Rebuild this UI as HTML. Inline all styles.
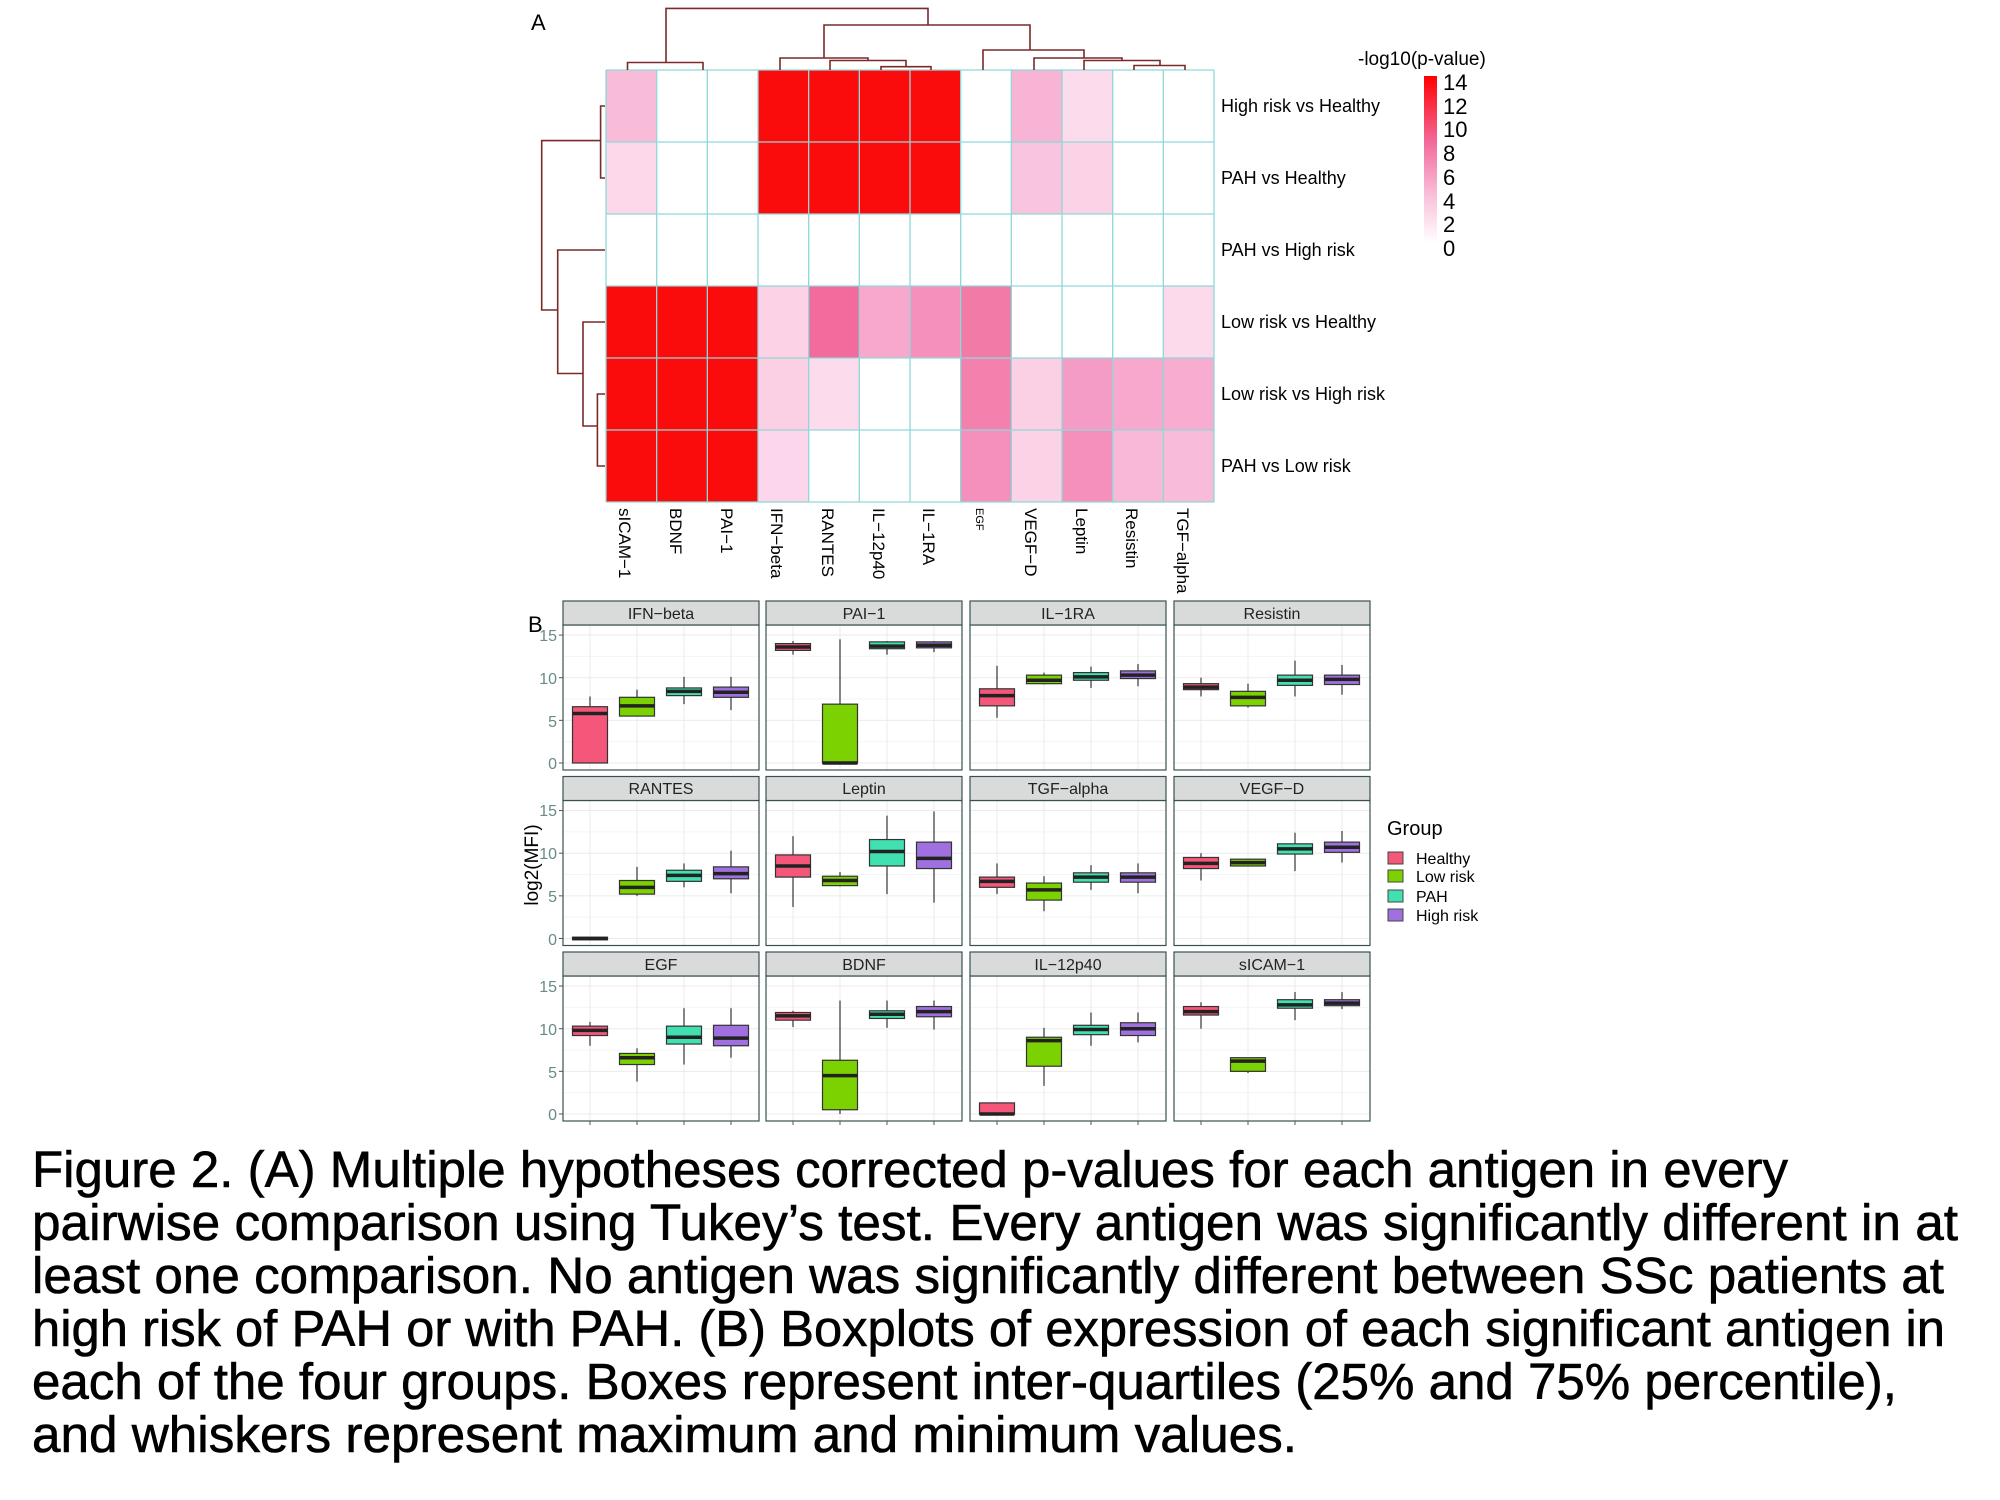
<!DOCTYPE html>
<html><head><meta charset="utf-8"><style>
html,body{margin:0;padding:0;background:#fff;}
svg{display:block;}
text{font-family:"Liberation Sans",sans-serif;}
</style></head><body>
<svg id="s" width="2000" height="1500" viewBox="0 0 2000 1500" xmlns="http://www.w3.org/2000/svg">
<rect width="2000" height="1500" fill="#fff"/>
<g id="hm"></g>
<g id="bx"></g>
<g fill="none" stroke="#7a2a2a" stroke-width="1.6">
<path d="M666,62.5 V8.4 H928 V25"/>
<path d="M627.5,70 V62.5 H703 V70"/>
<path d="M824,58 V25 H1030 V50"/>
<path d="M780,70 V58 H868 V60.5"/>
<path d="M830,70 V60.5 H906 V66.7"/>
<path d="M881,70 V66.7 H931 V70"/>
<path d="M983,70 V50 H1084 V58"/>
<path d="M1034,70 V58 H1122 V60.5"/>
<path d="M1084,70 V60.5 H1160 V65.5"/>
<path d="M1134,70 V65.5 H1185 V70"/>
<path d="M605,106 H600.6 V178 H605"/>
<path d="M600.6,140.6 H541.7 V310 H557.7"/>
<path d="M605,250 H557.7 V373.5 H583"/>
<path d="M605,322 H583 V426 H597.4"/>
<path d="M605,394 H597.4 V466 H605"/>
</g>
<text x="531" y="30" font-size="22">A</text>
<g font-size="18" fill="#000">
<text x="1221" y="112">High risk vs Healthy</text>
<text x="1221" y="184">PAH vs Healthy</text>
<text x="1221" y="256">PAH vs High risk</text>
<text x="1221" y="328">Low risk vs Healthy</text>
<text x="1221" y="400">Low risk vs High risk</text>
<text x="1221" y="472">PAH vs Low risk</text>
</g>
<g font-size="17" fill="#000">
<text transform="translate(625,508) rotate(90)" dy="6">sICAM−1</text>
<text transform="translate(676,508) rotate(90)" dy="6">BDNF</text>
<text transform="translate(727,508) rotate(90)" dy="6">PAI−1</text>
<text transform="translate(777,508) rotate(90)" dy="6">IFN−beta</text>
<text transform="translate(828,508) rotate(90)" dy="6">RANTES</text>
<text transform="translate(879,508) rotate(90)" dy="6">IL−12p40</text>
<text transform="translate(929,508) rotate(90)" dy="6">IL−1RA</text>
<text transform="translate(980,508) rotate(90)" dy="4" font-size="11">EGF</text>
<text transform="translate(1031,508) rotate(90)" dy="6">VEGF−D</text>
<text transform="translate(1082,508) rotate(90)" dy="6">Leptin</text>
<text transform="translate(1132,508) rotate(90)" dy="6">Resistin</text>
<text transform="translate(1183,508) rotate(90)" dy="6">TGF−alpha</text>
</g>
<defs><linearGradient id="cb" x1="0" y1="1" x2="0" y2="0">
<stop offset="0" stop-color="#fff"/><stop offset="0.3" stop-color="#f9bcd8"/><stop offset="0.6" stop-color="#f26b9c"/><stop offset="1" stop-color="#ff0000"/></linearGradient></defs>
<text x="1358" y="65" font-size="19">-log10(p-value)</text>
<rect x="1424" y="76" width="13" height="167" fill="url(#cb)"/>
<g font-size="22">
<text x="1443" y="90">14</text><text x="1443" y="114">12</text><text x="1443" y="137">10</text>
<text x="1443" y="161">8</text><text x="1443" y="185">6</text><text x="1443" y="209">4</text>
<text x="1443" y="232">2</text><text x="1443" y="256">0</text>
</g>
<text x="528" y="632" font-size="22">B</text>
<text transform="translate(538,865) rotate(-90)" font-size="19" text-anchor="middle">log2(MFI)</text>
<g font-size="16" fill="#222" text-anchor="middle">
<text x="661" y="619">IFN−beta</text><text x="864" y="619">PAI−1</text><text x="1068" y="619">IL−1RA</text><text x="1272" y="619">Resistin</text>
<text x="661" y="794">RANTES</text><text x="864" y="794">Leptin</text><text x="1068" y="794">TGF−alpha</text><text x="1272" y="794">VEGF−D</text>
<text x="661" y="970">EGF</text><text x="864" y="970">BDNF</text><text x="1068" y="970">IL−12p40</text><text x="1272" y="970">sICAM−1</text>
</g>
<g font-size="16" fill="#6a8a8a" text-anchor="end">
<text x="557" y="641">15</text><text x="557" y="684">10</text><text x="557" y="727">5</text><text x="557" y="769">0</text>
<text x="557" y="816">15</text><text x="557" y="859">10</text><text x="557" y="902">5</text><text x="557" y="945">0</text>
<text x="557" y="992">15</text><text x="557" y="1035">10</text><text x="557" y="1078">5</text><text x="557" y="1120">0</text>
</g>
<text x="1387" y="835" font-size="20">Group</text>
<g stroke="#444" stroke-width="1">
<rect x="1388" y="852" width="15" height="12" fill="#f5577a"/>
<rect x="1388" y="870" width="15" height="12" fill="#7cd100"/>
<rect x="1388" y="890" width="15" height="12" fill="#40e0b0"/>
<rect x="1388" y="909" width="15" height="12" fill="#a070e0"/>
</g>
<g font-size="16"><text x="1416" y="864">Healthy</text><text x="1416" y="882">Low risk</text><text x="1416" y="902">PAH</text><text x="1416" y="921">High risk</text></g>
<g font-size="51" fill="#000" stroke="#000" stroke-width="0.6">
<text x="32" y="1187" textLength="1756" lengthAdjust="spacingAndGlyphs">Figure 2. (A) Multiple hypotheses corrected p-values for each antigen in every</text>
<text x="32" y="1240" textLength="1926" lengthAdjust="spacingAndGlyphs">pairwise comparison using Tukey’s test. Every antigen was significantly different in at</text>
<text x="32" y="1293" textLength="1912" lengthAdjust="spacingAndGlyphs">least one comparison. No antigen was significantly different between SSc patients at</text>
<text x="32" y="1346" textLength="1913" lengthAdjust="spacingAndGlyphs">high risk of PAH or with PAH. (B) Boxplots of expression of each significant antigen in</text>
<text x="32" y="1399" textLength="1865" lengthAdjust="spacingAndGlyphs">each of the four groups. Boxes represent inter-quartiles (25% and 75% percentile),</text>
<text x="32" y="1452" textLength="1265" lengthAdjust="spacingAndGlyphs">and whiskers represent maximum and minimum values.</text>
</g>
</svg>
<script>
var NS="http://www.w3.org/2000/svg";
function el(p,t,a){var e=document.createElementNS(NS,t);for(var k in a)e.setAttribute(k,a[k]);p.appendChild(e);return e;}
var hm=document.getElementById("hm");
var R="#fb0c0c",W="#ffffff";
var C=[
["#f9bcd8",W,W,R,R,R,R,W,"#f8b4d4","#fcdcec",W,W],
["#fcd8ea",W,W,R,R,R,R,W,"#f9c4de","#fbd2e6",W,W],
[W,W,W,W,W,W,W,W,W,W,W,W],
[R,R,R,"#fcd2e6","#f26b9c","#f7a8cc","#f590bc","#f27aa6",W,W,W,"#fcdaeb"],
[R,R,R,"#fbd0e4","#fcdcec",W,W,"#f380ad","#fbd0e4","#f59cc6","#f7a8cc","#f7acd0"],
[R,R,R,"#fcd6ea",W,W,W,"#f590bc","#fcd2e6","#f590bc","#f9b8d6","#f9bcd8"]];
var x0=606,y0=70,cw=608/12,rh=72;
for(var r=0;r<6;r++)for(var c=0;c<12;c++)el(hm,"rect",{x:x0+c*cw,y:y0+r*rh,width:cw+0.5,height:rh+0.5,fill:C[r][c]});
for(var c=0;c<=12;c++)el(hm,"line",{x1:x0+c*cw,x2:x0+c*cw,y1:y0,y2:y0+432,stroke:"#8fd8d8","stroke-width":1.3});
for(var r=0;r<=6;r++)el(hm,"line",{x1:x0,x2:x0+608,y1:y0+r*rh,y2:y0+r*rh,stroke:"#8fd8d8","stroke-width":1.3});
var bx=document.getElementById("bx");
var PX=[563,766,970,1174],ST=[601,776.5,952],PB=[770,945.5,1121];
var cols=["#f5577a","#7cd100","#40e0b0","#a070e0"],off=[27,74,121,168];
var D=[
[[[0,0,5.8,6.6,7.8],[5.5,5.5,6.7,7.7,8.6],[6.9,7.9,8.4,8.8,10.1],[6.2,7.7,8.3,8.9,10.1]],
 [[12.7,13.2,13.6,14.0,14.3],[0,0,0,6.9,14.5],[12.7,13.4,13.7,14.2,14.3],[13,13.5,13.8,14.2,14.3]],
 [[5.3,6.7,7.9,8.7,11.4],[9.2,9.3,9.7,10.3,10.6],[8.8,9.7,10.1,10.6,11.3],[9.0,9.9,10.3,10.8,11.6]],
 [[7.8,8.6,8.9,9.3,10.0],[6.5,6.7,7.7,8.4,9.3],[7.8,9.1,9.7,10.3,12.0],[8.0,9.2,9.8,10.3,11.5]]],
[[[0,-0.15,0,0.15,0],[5,5.2,6.0,6.8,8.4],[6.0,6.7,7.4,8.0,8.8],[5.3,7.0,7.6,8.4,10.3]],
 [[3.7,7.2,8.5,9.8,12.0],[6.1,6.2,6.8,7.3,7.8],[5.2,8.5,10.2,11.6,14.4],[4.2,8.2,9.4,11.3,14.9]],
 [[5.2,6.0,6.7,7.2,8.8],[3.2,4.5,5.7,6.5,7.3],[5.7,6.6,7.2,7.7,8.6],[5.3,6.6,7.2,7.7,8.8]],
 [[6.8,8.2,8.8,9.5,10.0],[8.5,8.5,8.9,9.3,9.3],[7.9,9.9,10.5,11.1,12.4],[8.9,10.1,10.7,11.3,12.6]]],
[[[8.0,9.2,9.8,10.3,10.8],[3.8,5.8,6.6,7.1,7.7],[5.8,8.2,9.0,10.3,12.4],[6.6,8.0,8.9,10.4,12.4]],
 [[10.2,11.0,11.5,11.9,12.1],[0,0.5,4.5,6.3,13.3],[10.1,11.2,11.7,12.1,13.3],[9.9,11.4,12.0,12.6,13.3]],
 [[0,0,0,1.3,1.3],[3.3,5.6,8.6,9.0,10.1],[8.0,9.3,9.9,10.4,11.9],[8.4,9.2,10.0,10.7,11.9]],
 [[10.0,11.6,12.0,12.6,13.1],[4.8,5.0,6.2,6.6,6.6],[11.0,12.4,12.8,13.4,14.3],[12.3,12.7,13.0,13.4,14.3]]]];
for(var r=0;r<3;r++)for(var p=0;p<4;p++){
 var L=PX[p],w=196,st=ST[r],pb=PB[r],pt=st+24;
 var Y=function(v){return pb-7-v*8.53;};
 el(bx,"rect",{x:L,y:pt,width:w,height:pb-pt,fill:"#fff"});
 for(var v=0;v<=15;v+=2.5)el(bx,"line",{x1:L,x2:L+w,y1:Y(v),y2:Y(v),stroke:v%5?"#f4f4f4":"#ebebeb","stroke-width":1});
 for(var i=0;i<4;i++)el(bx,"line",{x1:L+off[i],x2:L+off[i],y1:pt,y2:pb,stroke:"#ebebeb","stroke-width":1});
 for(var i=0;i<4;i++){var d=D[r][p][i],cx=L+off[i];
  el(bx,"line",{x1:cx,x2:cx,y1:Y(d[4]),y2:Y(d[0]),stroke:"#333","stroke-width":1.2});
  el(bx,"rect",{x:cx-17.5,y:Y(d[3]),width:35,height:Math.max(Y(d[1])-Y(d[3]),2),fill:cols[i],stroke:"#333","stroke-width":1.2});
  el(bx,"line",{x1:cx-17.5,x2:cx+17.5,y1:Y(d[2]),y2:Y(d[2]),stroke:"#222","stroke-width":3.5});
 }
 el(bx,"rect",{x:L,y:pt,width:w,height:pb-pt,fill:"none",stroke:"#3a5050","stroke-width":1.2});
 el(bx,"rect",{x:L,y:st,width:w,height:24,fill:"#d9dbdb",stroke:"#3a5050","stroke-width":1.2});
 if(p==0)for(var v=0;v<=15;v+=5)el(bx,"line",{x1:L-4,x2:L,y1:Y(v),y2:Y(v),stroke:"#555","stroke-width":1});
 if(r==2)for(var i=0;i<4;i++)el(bx,"line",{x1:L+off[i],x2:L+off[i],y1:pb,y2:pb+4,stroke:"#555","stroke-width":1});
}
</script>
</body></html>
